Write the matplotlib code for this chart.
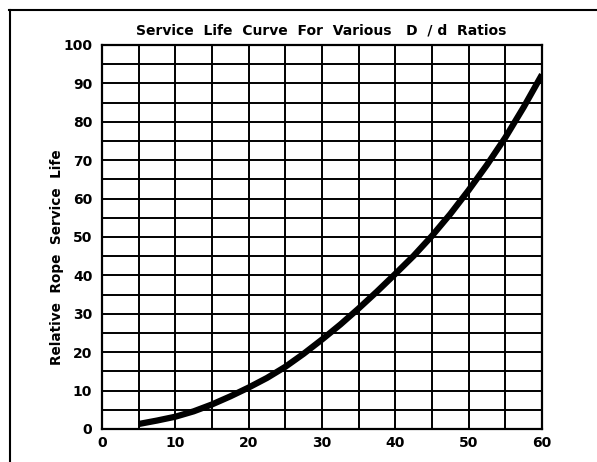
import matplotlib.pyplot as plt
from matplotlib.lines import Line2D

# D/d ratio vs relative rope service life
ratios = [5, 7.5, 10, 12.5, 15, 17.5, 20, 22.5, 25, 27.5, 30, 32.5,
          35, 37.5, 40, 42.5, 45, 47.5, 50, 52.5, 55, 57.5, 60]
service_life = [1.3, 2.2, 3.2, 4.6, 6.4, 8.5, 10.8, 13.3, 16.2, 19.6, 23.3, 27.2,
                31.4, 35.8, 40.4, 45.1, 50.3, 56.0, 62.2, 68.8, 75.9, 83.8, 92.3]

x_ticks = [0, 10, 20, 30, 40, 50, 60]
y_ticks = [0, 10, 20, 30, 40, 50, 60, 70, 80, 90, 100]

plt.rcParams['font.family'] = ['DejaVu Sans']
plt.rcParams['font.weight'] = 'bold'

fig = plt.figure(figsize=(5.97, 4.62), dpi=100)
W, H = 597, 462
ax = fig.add_axes([102 / W, 1 - 429 / H, (542 - 102) / W, (429 - 45) / H])

# scanned frame: only top and left edges show
fig.lines.append(Line2D([9 / W, 1], [1 - 10 / H, 1 - 10 / H],
                        transform=fig.transFigure, color='black', linewidth=1.5))
fig.lines.append(Line2D([10 / W, 10 / W], [0, 1 - 10 / H],
                        transform=fig.transFigure, color='black', linewidth=1.5))

ax.plot(ratios, service_life, color='black', linewidth=4.5,
        solid_capstyle='butt', solid_joinstyle='round', zorder=3)

ax.set_xlim(0, 60)
ax.set_ylim(0, 100)
ax.set_xticks(x_ticks)
ax.set_yticks(y_ticks)
ax.set_xticks(range(0, 61, 5), minor=True)
ax.set_yticks(range(0, 101, 5), minor=True)
ax.grid(True, which='both', color='black', linewidth=1.4)
ax.tick_params(which='both', length=0)
ax.tick_params(axis='x', pad=5, labelsize=10)
ax.tick_params(axis='y', pad=7, labelsize=10)
for s in ax.spines.values():
    s.set_linewidth(1.6)

fig.text(321 / W, 1 - 30 / H, 'Service  Life  Curve  For  Various   D  / d  Ratios',
         ha='center', va='center', fontsize=10, fontweight='bold')
fig.text(57 / W, 1 - 257 / H, 'Relative  Rope  Service  Life', rotation=90,
         ha='center', va='center', fontsize=9.8, fontweight='bold')

fig.savefig('out.png', dpi=100)
